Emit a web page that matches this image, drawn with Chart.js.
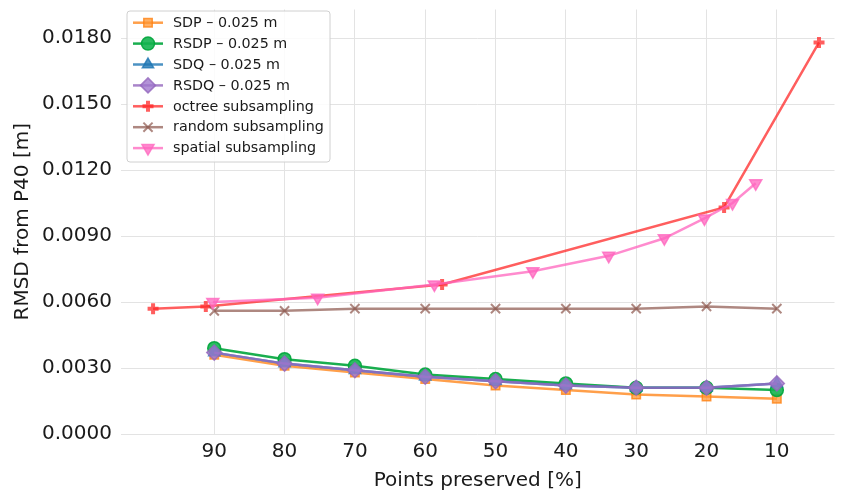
<!DOCTYPE html>
<html>
<head>
<meta charset="utf-8">
<script src="https://cdn.jsdelivr.net/npm/chart.js@4/dist/chart.umd.min.js"></script>
<style>
  html, body { margin: 0; padding: 0; background: #fff; }
  #wrap { width: 844px; height: 495px; }
</style>
</head>
<body>
<div id="wrap"><canvas id="rmsdChart" width="844" height="495"></canvas></div>
<script>
// ค่าของแต่ละชุดข้อมูล อ่านจากรูป
var pctPreserved = [90, 80, 70, 60, 50, 40, 30, 20, 10];
var sdpVals  = [0.0036, 0.0031, 0.0028, 0.0025, 0.0022, 0.0020, 0.0018, 0.0017, 0.0016];
var rsdpVals = [0.0039, 0.0034, 0.0031, 0.0027, 0.0025, 0.0023, 0.0021, 0.0021, 0.0020];
var sdqVals  = [0.0037, 0.0032, 0.0029, 0.0026, 0.0024, 0.0022, 0.0021, 0.0021, 0.0023];
var rsdqVals = [0.0037, 0.0032, 0.0029, 0.0026, 0.0024, 0.0022, 0.0021, 0.0021, 0.0023];
var randomVals = [0.0056, 0.0056, 0.0057, 0.0057, 0.0057, 0.0057, 0.0057, 0.0058, 0.0057];

var octreeX = [98.7, 91.2, 57.6, 17.5, 4.0];
var octreeY = [0.0057, 0.0058, 0.0068, 0.0103, 0.0178];

var spatialX = [90.2, 75.3, 58.7, 44.7, 33.9, 26.0, 20.3, 16.3, 13.0];
var spatialY = [0.0060, 0.0062, 0.0068, 0.0074, 0.0081, 0.0089, 0.0098, 0.0105, 0.0114];

var xTicks = [90, 80, 70, 60, 50, 40, 30, 20, 10];
var yTicks = [0.0, 0.003, 0.006, 0.009, 0.012, 0.015, 0.018];

var seriesLabels = ['SDP \u2013 0.025 m', 'RSDP \u2013 0.025 m', 'SDQ \u2013 0.025 m', 'RSDQ \u2013 0.025 m',
                    'octree subsampling', 'random subsampling', 'spatial subsampling'];

function toPoints(xs, ys) {
    return xs.map(function (x, i) { return { x: x, y: ys[i] }; });
}

var FONT = "'DejaVu Sans', sans-serif";

// สร้างชุดข้อมูล
function makeSet(idx, data, color, fill, style, radius, extra) {
    var ds = {
        label: seriesLabels[idx],
        data: data,
        borderColor: color,
        backgroundColor: fill,
        borderWidth: 2.5,
        pointStyle: style,
        pointRadius: radius,
        pointBorderWidth: 1.5,
        pointBorderColor: color,
        pointBackgroundColor: fill,
        tension: 0,
        fill: false,
        order: 7 - idx
    };
    for (var k in extra) ds[k] = extra[k];
    return ds;
}

var datasets = [
    makeSet(0, toPoints(pctPreserved, sdpVals), 'rgba(255,127,14,0.75)', 'rgba(255,150,50,0.75)', 'rect', 6, {}),
    makeSet(1, toPoints(pctPreserved, rsdpVals), 'rgba(0,165,60,0.9)', 'rgba(20,180,80,0.9)', 'circle', 6.5, {}),
    makeSet(2, toPoints(pctPreserved, sdqVals), 'rgba(31,119,180,0.8)', 'rgba(31,119,180,0.8)', 'triangle', 6.5, {}),
    makeSet(3, toPoints(pctPreserved, rsdqVals), 'rgba(148,103,189,0.8)', 'rgba(160,120,205,0.8)', 'rectRot', 7.5, {}),
    makeSet(4, toPoints(octreeX, octreeY), 'rgba(255,40,40,0.75)', 'rgba(255,40,40,0.75)', 'cross', 5.5, { pointBorderWidth: 4 }),
    makeSet(5, toPoints(pctPreserved, randomVals), 'rgba(140,86,75,0.7)', 'rgba(140,86,75,0.7)', 'crossRot', 6.5, { pointBorderWidth: 2 }),
    makeSet(6, toPoints(spatialX, spatialY), 'rgba(255,100,190,0.75)', 'rgba(255,100,190,0.75)', 'triangle', 7, { pointRotation: 180 })
];

// กล่องคำอธิบายแบบ matplotlib (เส้น + มาร์กเกอร์)
var legendBox = {
    id: 'legendBox',
    afterDraw: function (chart) {
        var ctx = chart.ctx;
        var x0 = 127, y0 = 11, w = 203, h = 151;
        ctx.save();
        ctx.beginPath();
        ctx.roundRect(x0, y0, w, h, 3);
        ctx.fillStyle = 'rgba(255,255,255,0.85)';
        ctx.fill();
        ctx.strokeStyle = '#d0d0d0';
        ctx.lineWidth = 1;
        ctx.stroke();
        chart.data.datasets.forEach(function (ds, i) {
            var cy = 22.7 + i * 20.9;
            ctx.beginPath();
            ctx.moveTo(133, cy);
            ctx.lineTo(163, cy);
            ctx.strokeStyle = ds.borderColor;
            ctx.lineWidth = ds.borderWidth;
            ctx.stroke();
            ctx.fillStyle = ds.pointBackgroundColor;
            ctx.strokeStyle = ds.pointBorderColor;
            ctx.lineWidth = ds.pointBorderWidth;
            Chart.helpers.drawPoint(ctx, {
                pointStyle: ds.pointStyle,
                radius: ds.pointRadius,
                rotation: ds.pointRotation || 0,
                borderWidth: ds.pointBorderWidth
            }, 148, cy);
            ctx.fillStyle = '#1a1a1a';
            ctx.font = '14.3px ' + FONT;
            ctx.textBaseline = 'middle';
            ctx.textAlign = 'left';
            ctx.fillText(ds.label, 173, cy + 0.5);
        });
        ctx.restore();
    }
};

var ctx = document.getElementById('rmsdChart').getContext('2d');
var rmsdChart = new Chart(ctx, {
    type: 'line',
    data: { datasets: datasets },
    options: {
        responsive: false,
        animation: false,
        layout: { padding: 0 },
        plugins: {
            legend: { display: false },
            tooltip: { enabled: false }
        },
        scales: {
            x: {
                type: 'linear',
                reverse: true,
                min: 1.8,
                max: 103.26,
                afterBuildTicks: function (s) { s.ticks = xTicks.map(function (v) { return { value: v }; }); },
                afterFit: function (s) { s.height = 61; s.paddingLeft = 0; s.paddingRight = 0; },
                grid: { color: '#e3e3e3', lineWidth: 1, drawTicks: false },
                border: { display: false },
                ticks: {
                    color: '#1a1a1a',
                    font: { family: FONT, size: 20 },
                    padding: 6,
                    callback: function (v) { return String(v); }
                },
                title: {
                    display: true,
                    text: 'Points preserved [%]',
                    color: '#1a1a1a',
                    font: { family: FONT, size: 20 },
                    padding: { top: 0, bottom: 2 }
                }
            },
            y: {
                type: 'linear',
                min: 0,
                max: 0.0193,
                afterBuildTicks: function (s) { s.ticks = yTicks.map(function (v) { return { value: v }; }); },
                afterFit: function (s) { s.width = 121; s.paddingTop = 0; s.paddingBottom = 0; },
                grid: { color: '#e3e3e3', lineWidth: 1, drawTicks: false },
                border: { display: false },
                ticks: {
                    color: '#1a1a1a',
                    font: { family: FONT, size: 20 },
                    padding: 9,
                    callback: function (v) { return v.toFixed(4); }
                },
                title: {
                    display: true,
                    text: 'RMSD from P40 [m]',
                    color: '#1a1a1a',
                    font: { family: FONT, size: 20 },
                    padding: { top: 11, bottom: 0 }
                }
            }
        }
    },
    plugins: [legendBox]
});
</script>
</body>
</html>
